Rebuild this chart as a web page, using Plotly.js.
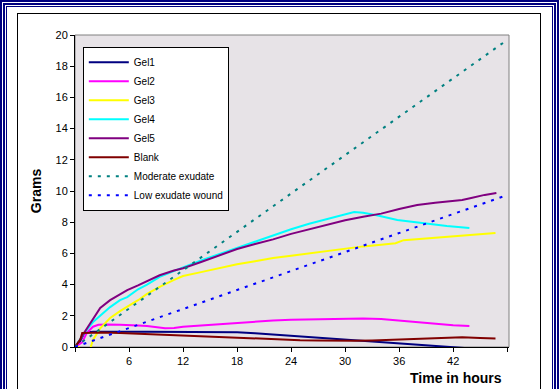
<!DOCTYPE html>
<html>
<head>
<meta charset="utf-8">
<script src="https://cdn.plot.ly/plotly-3.0.1.min.js"></script>
<style>
  html, body { margin:0; padding:0; width:559px; height:389px; overflow:hidden; background:#fff; }
  .frame { position:absolute; box-sizing:border-box; border-bottom:none !important; }
  #chart { position:absolute; left:0; top:0; width:559px; height:389px; z-index:10; }
</style>
</head>
<body>
<div class="frame" style="left:0;top:0;width:559px;height:600px;border:2px solid #000080;"></div>
<div class="frame" style="left:3px;top:3px;width:553px;height:600px;border:2px solid #000080;"></div>
<div class="frame" style="left:6px;top:6px;width:547px;height:600px;border:1px solid #000080;"></div>
<div class="frame" style="left:17px;top:13px;width:524px;height:600px;border:1px solid #000000;"></div>
<div id="chart"></div>
<script>
// ---- data (hours, grams) ----
const seriesNames = ["Gel1", "Gel2", "Gel3", "Gel4", "Gel5", "Blank", "Moderate exudate", "Low exudate wound"];

const gel1T = [0, 0.5, 1.0, 1.5, 2, 3, 4, 6, 8, 10, 12, 14, 16, 18, 20, 22, 24, 26, 28, 30, 32, 34, 36, 38, 40, 42, 44, 46.6];
const gel1G = [0, 0.3, 0.85, 0.95, 0.97, 0.98, 0.98, 0.97, 0.97, 0.97, 0.97, 0.97, 0.96, 0.94, 0.88, 0.8, 0.7, 0.65, 0.57, 0.47, 0.4, 0.33, 0.26, 0.17, 0.08, -0.02, -0.1, -0.2];

const gel2T = [0, 0.8, 1.3, 2, 2.6, 3.5, 5, 6, 7, 8, 9, 10, 11, 12, 14, 16, 18, 20, 22, 24, 26, 28, 30, 32, 34, 36, 38, 40, 42, 43.8];
const gel2G = [0, 0.3, 0.9, 1.3, 1.42, 1.45, 1.43, 1.42, 1.38, 1.35, 1.28, 1.2, 1.22, 1.3, 1.38, 1.47, 1.55, 1.62, 1.7, 1.75, 1.78, 1.8, 1.83, 1.83, 1.8, 1.7, 1.58, 1.48, 1.4, 1.35];

const gel3T = [0, 0.4, 0.6, 1.0, 1.3, 1.6, 2, 2.8, 3.9, 5, 5.8, 7, 8, 9.4, 11, 12, 14, 16, 18, 20, 22, 24, 26, 28, 30, 32, 34, 35.6, 36.5, 38, 40, 42, 44, 46.7];
const gel3G = [0, 0, -1.5, -2, -0.8, -0.2, 0.45, 1.2, 1.86, 2.3, 2.56, 3.0, 3.4, 3.85, 4.3, 4.55, 4.8, 5.05, 5.3, 5.5, 5.7, 5.85, 6.0, 6.15, 6.3, 6.45, 6.55, 6.65, 6.85, 6.92, 7.0, 7.08, 7.18, 7.3];

const gel4T = [0, 0.6, 1.1, 2, 3, 3.9, 5, 5.8, 7, 8, 9.4, 11, 12, 14, 16, 18, 20, 22, 24, 26, 28, 30, 31, 32, 33.5, 35.8, 38.3, 41.3, 43.8];
const gel4G = [0, 0.5, 0.95, 1.6, 2.1, 2.56, 3.0, 3.2, 3.7, 4.0, 4.5, 4.9, 5.1, 5.55, 5.95, 6.4, 6.8, 7.2, 7.55, 7.9, 8.2, 8.5, 8.65, 8.6, 8.45, 8.14, 7.95, 7.75, 7.63];

const gel5T = [0, 0.5, 1, 1.67, 2.8, 3.9, 4.8, 5.8, 7, 8, 9.4, 11, 12, 14, 16, 18, 20, 22, 24, 26, 28, 30, 32, 34, 36, 38, 40, 42, 43, 44, 45.5, 46.8];
const gel5G = [0, 0.4, 0.9, 1.5, 2.5, 3.0, 3.3, 3.65, 3.95, 4.2, 4.6, 4.9, 5.05, 5.45, 5.85, 6.28, 6.6, 6.9, 7.25, 7.55, 7.85, 8.12, 8.35, 8.55, 8.85, 9.1, 9.25, 9.35, 9.42, 9.55, 9.75, 9.87];

const blankT = [0, 0.3, 0.6, 0.8, 1.5, 3, 5, 7, 9, 11, 13, 15, 17, 19, 21, 23, 25, 27, 29, 31, 33, 35, 37, 39, 41, 43, 45, 46.7];
const blankG = [0, 0.25, 0.5, 0.9, 0.92, 0.93, 0.9, 0.85, 0.8, 0.76, 0.72, 0.68, 0.64, 0.58, 0.52, 0.48, 0.44, 0.42, 0.4, 0.4, 0.42, 0.46, 0.52, 0.56, 0.6, 0.62, 0.58, 0.55];

const moderateT = [0, 47.8];
const moderateG = [0, 19.6];

const lowT = [0, 47.8];
const lowG = [0, 9.7];

const xTickVals = [0, 6, 12, 18, 24, 30, 36, 42, 48];
const xTickText = ["", "6", "12", "18", "24", "30", "36", "42", ""];
const yTickVals = [0, 2, 4, 6, 8, 10, 12, 14, 16, 18, 20];

// ---- traces ----
const FONT = "Liberation Sans, Arial, sans-serif";
function solid(name, x, y, color) {
  return { type: "scatter", mode: "lines", name: name, x: x, y: y,
           line: { color: color, width: 2 }, hoverinfo: "skip" };
}
function dotted(name, x, y, color) {
  return { type: "scatter", mode: "lines", name: name, x: x, y: y,
           line: { color: color, width: 2, dash: "3px,6px" }, hoverinfo: "skip" };
}
const data = [
  solid(seriesNames[0], gel1T, gel1G, "#000080"),
  solid(seriesNames[1], gel2T, gel2G, "#FF00FF"),
  solid(seriesNames[2], gel3T, gel3G, "#FFFF00"),
  solid(seriesNames[3], gel4T, gel4G, "#00FFFF"),
  solid(seriesNames[4], gel5T, gel5G, "#800080"),
  solid(seriesNames[5], blankT, blankG, "#800000"),
  dotted(seriesNames[6], moderateT, moderateG, "#008080"),
  dotted(seriesNames[7], lowT, lowG, "#0000FF")
];

const layout = {
  width: 559, height: 389,
  margin: { l: 75, r: 50, t: 35, b: 42, pad: 0 },
  paper_bgcolor: "rgba(0,0,0,0)",
  plot_bgcolor: "#E7E3E7",
  font: { family: FONT, color: "#000", size: 11 },
  showlegend: true,
  xaxis: {
    range: [0, 48.2], tickmode: "array", tickvals: xTickVals, ticktext: xTickText,
    ticks: "outside", ticklen: 4, tickcolor: "#000", tickwidth: 1,
    showline: true, linecolor: "#000", linewidth: 1,
    showgrid: false, zeroline: false, fixedrange: true,
    tickfont: { family: FONT, size: 11, color: "#000" }
  },
  xaxis2: {
    overlaying: "x", anchor: "y", side: "bottom",
    range: [0, 48.2], tickmode: "array", tickvals: xTickVals,
    ticks: "inside", ticklen: 4, tickcolor: "#000", tickwidth: 1,
    showticklabels: false, showline: false, showgrid: false, zeroline: false
  },
  yaxis: {
    range: [0, 20], tickmode: "array", tickvals: yTickVals,
    ticks: "outside", ticklen: 4, tickcolor: "#000", tickwidth: 1,
    showline: true, linecolor: "#000", linewidth: 1,
    showgrid: false, zeroline: false, fixedrange: true,
    tickfont: { family: FONT, size: 11, color: "#000" },
    title: { text: "<b>Grams</b>", font: { family: FONT, size: 14, color: "#000" }, standoff: 10 }
  },
  legend: {
    x: 0.018, y: 0.962, xanchor: "left", yanchor: "top",
    bgcolor: "#fff", bordercolor: "#000", borderwidth: 1,
    font: { family: FONT, size: 10, color: "#000" },
    itemwidth: 40, traceorder: "normal"
  },
  shapes: [
    { type: "rect", xref: "paper", yref: "paper", x0: 0, x1: 1, y0: 0, y1: 1,
      line: { color: "#808080", width: 1 }, layer: "below" }
  ],
  annotations: [
    { text: "<b>Time in hours</b>", xref: "paper", yref: "paper",
      x: 0.988, y: -0.099, xanchor: "right", yanchor: "middle", showarrow: false,
      font: { family: FONT, size: 14, color: "#000" } }
  ]
};

Plotly.newPlot("chart", data, layout, { staticPlot: true, displayModeBar: false });
</script>
</body>
</html>
